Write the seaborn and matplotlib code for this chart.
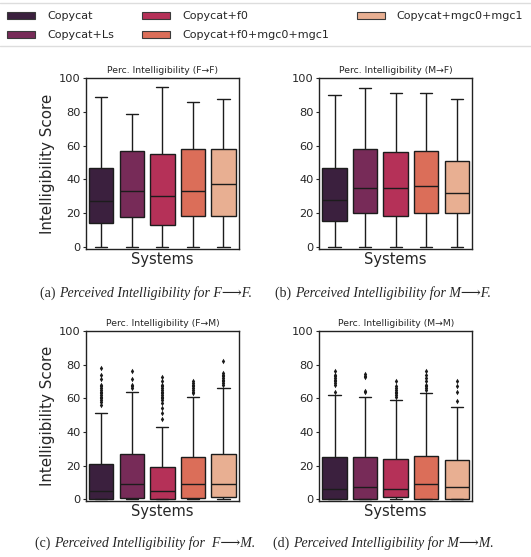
import matplotlib
matplotlib.use("Agg")
import matplotlib.pyplot as plt
import seaborn as sns
import pandas as pd
from matplotlib.patches import Patch
from matplotlib.lines import Line2D

systems = ["Copycat", "Copycat+Ls", "Copycat+f0", "Copycat+f0+mgc0+mgc1", "Copycat+mgc0+mgc1"]

# five number summaries (whisker low, q1, median, q3, whisker high) per system
ff_low = [0, 0, 0, 0, 0]
ff_q1 = [14, 17.5, 13, 18, 18]
ff_med = [27, 33, 30, 33, 37]
ff_q3 = [47, 57, 55, 58, 58]
ff_high = [89, 79, 95, 86, 88]
ff_out = [[], [], [], [], []]

mf_low = [0, 0, 0, 0, 0]
mf_q1 = [15, 20, 18, 20, 20]
mf_med = [28, 35, 35, 36, 32]
mf_q3 = [47, 58, 56, 57, 51]
mf_high = [90, 94, 91, 91, 88]
mf_out = [[], [], [], [], []]

fm_low = [0, 0, 0, 0, 0]
fm_q1 = [0, 0.8, 0, 0.8, 1.2]
fm_med = [5, 9, 5, 9, 9]
fm_q3 = [21, 27, 19, 25, 27]
fm_high = [51, 64, 43, 61, 66]
fm_out = [
    [56, 58, 59, 60, 61, 62, 63, 64, 65, 66, 67, 68, 71.5, 74, 78],
    [66, 67, 68, 71.5, 76.5],
    [47.5, 51, 54, 57, 59, 60, 61, 62, 63, 64, 65, 66, 67, 68, 70, 72.5],
    [63, 64, 65, 66, 67, 68, 69, 70],
    [68, 69, 70, 71, 72, 73, 74, 75, 82],
]

mm_low = [0, 0, 0, 0, 0]
mm_q1 = [0, 0, 1, 0.2, 0]
mm_med = [6, 7, 6, 9, 7]
mm_q3 = [25, 25, 24, 25.5, 23]
mm_high = [62, 61, 59, 63, 55]
mm_out = [
    [64, 68, 69, 70, 71, 72, 73, 74, 76],
    [63.5, 64.5, 72.5, 73.5, 74.5],
    [61, 62, 63, 64, 65, 66, 67, 70],
    [65, 66, 67, 68, 70, 72, 74, 76],
    [58.5, 64, 67.5, 70.5],
]

panels = [
    ("Perc. Intelligibility (F→F)", ff_low, ff_q1, ff_med, ff_q3, ff_high, ff_out),
    ("Perc. Intelligibility (M→F)", mf_low, mf_q1, mf_med, mf_q3, mf_high, mf_out),
    ("Perc. Intelligibility (F→M)", fm_low, fm_q1, fm_med, fm_q3, fm_high, fm_out),
    ("Perc. Intelligibility (M→M)", mm_low, mm_q1, mm_med, mm_q3, mm_high, mm_out),
]

captions = [
    ("(a) ", "Perceived Intelligibility for F⟶F."),
    ("(b) ", "Perceived Intelligibility for M⟶F."),
    ("(c) ", "Perceived Intelligibility for  F⟶M."),
    ("(d) ", "Perceived Intelligibility for M⟶M."),
]

sns.set_style("white")
plt.rcParams["font.family"] = ["DejaVu Sans"]

W, H = 531, 557
fig = plt.figure(figsize=(W / 100, H / 100), dpi=100)

rects = [
    (86, 78.3, 152.7, 170.7),
    (319.3, 78.3, 152.7, 170.7),
    (86, 331, 152.7, 170),
    (319.3, 331, 152.7, 170),
]
ylims = [(-1.4, 100), (-1.4, 100), (-1.1, 100), (-1.1, 100)]

palette = sns.color_palette("rocket", 5)
axes = []
for i, (title, lo, q1, med, q3, hi, out) in enumerate(panels):
    x0, y0, w, h = rects[i]
    ax = fig.add_axes([x0 / W, 1 - (y0 + h) / H, w / W, h / H])
    axes.append(ax)

    rows = []
    for s, a, b, c, d, e in zip(systems, lo, q1, med, q3, hi):
        for v in (a, b, c, d, e):
            rows.append({"System": s, "Score": v})
    df = pd.DataFrame(rows)

    sns.boxplot(data=df, x="System", y="Score", hue="System", order=systems,
                hue_order=systems, palette=palette, whis=(0, 100), width=0.8,
                linewidth=1.0, legend=False, ax=ax)

    orows = []
    for s, vals in zip(systems, out):
        for v in vals:
            orows.append({"System": s, "Score": v})
    if orows:
        odf = pd.DataFrame(orows)
        sns.stripplot(data=odf, x="System", y="Score", order=systems, color="#1a1a1a",
                      marker="d", size=2.8, jitter=False, ax=ax)

    ax.set_ylim(*ylims[i])
    ax.set_xlim(-0.5, 4.5)
    ax.set_xticks([])
    ax.set_yticks([0, 20, 40, 60, 80, 100])
    ax.tick_params(axis="y", labelsize=8.2, length=2.5, width=0.8, pad=1.5, left=True)
    ax.set_xlabel("Systems", fontsize=10.5, labelpad=2.5)
    if i % 2 == 0:
        ax.set_ylabel("Intelligibility Score", fontsize=10.9, labelpad=2.5)
    else:
        ax.set_ylabel("")
    ax.set_title(title, fontsize=6.7, pad=3.5)
    for sp in ax.spines.values():
        sp.set_color("#222222")
        sp.set_linewidth(1.0)

# shared legend on top
handles = [Patch(facecolor=sns.desaturate(c, 0.75), edgecolor="#3a3a3a", linewidth=0.8)
           for c in palette]
fig.legend(handles, systems, loc="upper left", bbox_to_anchor=(3 / W, 1 - 7 / H),
           ncol=3, frameon=False, fontsize=8.0, handlelength=2.5, handleheight=0.7,
           handletextpad=1.1, columnspacing=2.5, labelspacing=0.8, borderaxespad=0,
           borderpad=0.4)
for yy in (3, 46):
    fig.add_artist(Line2D([0, 1], [1 - yy / H] * 2, transform=fig.transFigure,
                          color="#dddddd", linewidth=1.0))

# captions
cap_pos = [(40, 297), (275, 297), (35, 547), (273, 547)]
serif = ["Liberation Serif", "DejaVu Serif", "DejaVu Sans"]
for (tag, body), (cx, cy) in zip(captions, cap_pos):
    t = fig.text(cx / W, 1 - cy / H, tag, fontsize=10, family=serif, va="baseline")
    axes[0].annotate(body, xy=(1, 0), xycoords=t, va="bottom", ha="left",
                     fontsize=10, family=serif, style="italic", annotation_clip=False)

fig.savefig("out.png", dpi=100)
